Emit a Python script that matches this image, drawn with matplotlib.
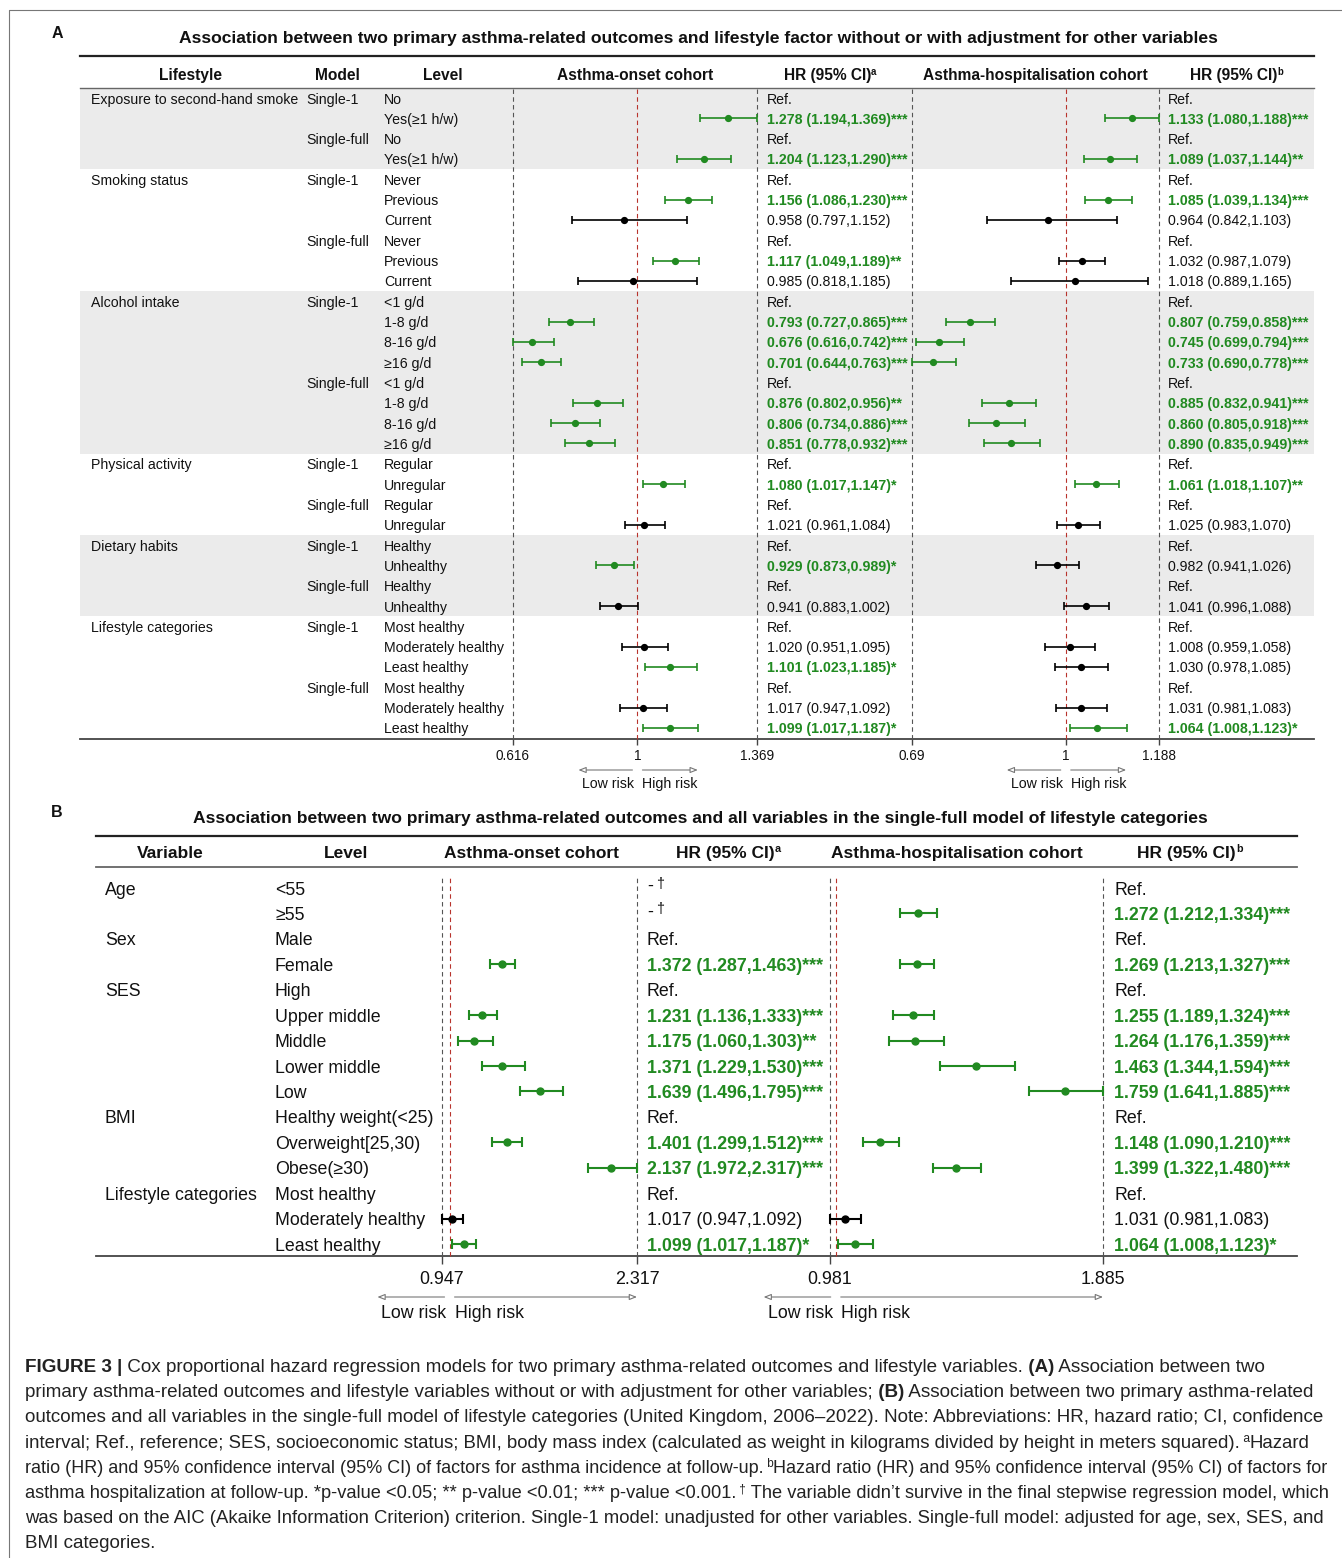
import numpy as np
import matplotlib
matplotlib.use('Agg')
import matplotlib.pyplot as plt
from matplotlib.patches import Rectangle

nan = np.nan

# -------------- Panel A: lifestyle factors, single-1 / single-full models --------------
a_groups = ['Exposure to second-hand smoke', 'Smoking status', 'Alcohol intake',
            'Physical activity', 'Dietary habits', 'Lifestyle categories']
a_group_sizes = [4, 6, 8, 4, 4, 6]
a_model = ['Single-1', '', 'Single-full', '',
           'Single-1', '', '', 'Single-full', '', '',
           'Single-1', '', '', '', 'Single-full', '', '', '',
           'Single-1', '', 'Single-full', '',
           'Single-1', '', 'Single-full', '',
           'Single-1', '', '', 'Single-full', '', '']
a_level = ['No', 'Yes(≥1 h/w)', 'No', 'Yes(≥1 h/w)',
           'Never', 'Previous', 'Current', 'Never', 'Previous', 'Current',
           '<1 g/d', '1-8 g/d', '8-16 g/d', '≥16 g/d', '<1 g/d', '1-8 g/d', '8-16 g/d', '≥16 g/d',
           'Regular', 'Unregular', 'Regular', 'Unregular',
           'Healthy', 'Unhealthy', 'Healthy', 'Unhealthy',
           'Most healthy', 'Moderately healthy', 'Least healthy',
           'Most healthy', 'Moderately healthy', 'Least healthy']

# asthma-onset cohort (nan = reference level)
a_on_hr = [nan, 1.278, nan, 1.204, nan, 1.156, 0.958, nan, 1.117, 0.985,
           nan, 0.793, 0.676, 0.701, nan, 0.876, 0.806, 0.851,
           nan, 1.080, nan, 1.021, nan, 0.929, nan, 0.941,
           nan, 1.020, 1.101, nan, 1.017, 1.099]
a_on_lo = [nan, 1.194, nan, 1.123, nan, 1.086, 0.797, nan, 1.049, 0.818,
           nan, 0.727, 0.616, 0.644, nan, 0.802, 0.734, 0.778,
           nan, 1.017, nan, 0.961, nan, 0.873, nan, 0.883,
           nan, 0.951, 1.023, nan, 0.947, 1.017]
a_on_hi = [nan, 1.369, nan, 1.290, nan, 1.230, 1.152, nan, 1.189, 1.185,
           nan, 0.865, 0.742, 0.763, nan, 0.956, 0.886, 0.932,
           nan, 1.147, nan, 1.084, nan, 0.989, nan, 1.002,
           nan, 1.095, 1.185, nan, 1.092, 1.187]
a_on_sig = ['', '***', '', '***', '', '***', '', '', '**', '',
            '', '***', '***', '***', '', '**', '***', '***',
            '', '*', '', '', '', '*', '', '',
            '', '', '*', '', '', '*']

# asthma-hospitalisation cohort
a_ho_hr = [nan, 1.133, nan, 1.089, nan, 1.085, 0.964, nan, 1.032, 1.018,
           nan, 0.807, 0.745, 0.733, nan, 0.885, 0.860, 0.890,
           nan, 1.061, nan, 1.025, nan, 0.982, nan, 1.041,
           nan, 1.008, 1.030, nan, 1.031, 1.064]
a_ho_lo = [nan, 1.080, nan, 1.037, nan, 1.039, 0.842, nan, 0.987, 0.889,
           nan, 0.759, 0.699, 0.690, nan, 0.832, 0.805, 0.835,
           nan, 1.018, nan, 0.983, nan, 0.941, nan, 0.996,
           nan, 0.959, 0.978, nan, 0.981, 1.008]
a_ho_hi = [nan, 1.188, nan, 1.144, nan, 1.134, 1.103, nan, 1.079, 1.165,
           nan, 0.858, 0.794, 0.778, nan, 0.941, 0.918, 0.949,
           nan, 1.107, nan, 1.070, nan, 1.026, nan, 1.088,
           nan, 1.058, 1.085, nan, 1.083, 1.123]
a_ho_sig = ['', '***', '', '**', '', '***', '', '', '', '',
            '', '***', '***', '***', '', '***', '***', '***',
            '', '**', '', '', '', '', '', '',
            '', '', '', '', '', '*']

# -------------- Panel B: all variables in the single-full model --------------
b_groups = ['Age', 'Sex', 'SES', 'BMI', 'Lifestyle categories']
b_group_sizes = [2, 2, 5, 3, 3]
b_level = ['<55', '≥55', 'Male', 'Female', 'High', 'Upper middle', 'Middle',
           'Lower middle', 'Low', 'Healthy weight(<25)', 'Overweight[25,30)',
           'Obese(≥30)', 'Most healthy', 'Moderately healthy', 'Least healthy']
b_on_dropped = [True, True] + [False] * 13   # age left the stepwise model
b_on_hr = [nan, nan, nan, 1.372, nan, 1.231, 1.175, 1.371, 1.639, nan, 1.401, 2.137, nan, 1.017, 1.099]
b_on_lo = [nan, nan, nan, 1.287, nan, 1.136, 1.060, 1.229, 1.496, nan, 1.299, 1.972, nan, 0.947, 1.017]
b_on_hi = [nan, nan, nan, 1.463, nan, 1.333, 1.303, 1.530, 1.795, nan, 1.512, 2.317, nan, 1.092, 1.187]
b_on_sig = ['', '', '', '***', '', '***', '**', '***', '***', '', '***', '***', '', '', '*']
b_ho_hr = [nan, 1.272, nan, 1.269, nan, 1.255, 1.264, 1.463, 1.759, nan, 1.148, 1.399, nan, 1.031, 1.064]
b_ho_lo = [nan, 1.212, nan, 1.213, nan, 1.189, 1.176, 1.344, 1.641, nan, 1.090, 1.322, nan, 0.981, 1.008]
b_ho_hi = [nan, 1.334, nan, 1.327, nan, 1.324, 1.359, 1.594, 1.885, nan, 1.210, 1.480, nan, 1.083, 1.123]
b_ho_sig = ['', '***', '', '***', '', '***', '***', '***', '***', '', '***', '***', '', '', '*']

# -------------- Style --------------
plt.rcParams['font.family'] = ['Liberation Sans', 'DejaVu Sans']
GREEN = '#218a21'
RED = '#b8332c'
DASH = '#555555'
INK = '#111111'
LINE = '#444444'

W, H = 1342, 1558
fig = plt.figure(figsize=(W / 100, H / 100), dpi=100)
bg = fig.add_axes([0, 0, 1, 1])
bg.set_xlim(0, W)
bg.set_ylim(H, 0)
bg.axis('off')
renderer = fig.canvas.get_renderer()


def runs_text(x, y, runs, size, color=INK, ha='left'):
    """Place styled pieces of one line next to each other on a shared baseline."""
    pieces, cx = [], x
    for s, bold, scale, rise in runs:
        t = bg.text(cx, y - rise, s, fontsize=size * scale, color=color,
                    fontweight='bold' if bold else 'normal', ha='left', va='baseline')
        pieces.append(t)
        cx += t.get_window_extent(renderer).width
    width = cx - x
    if ha == 'center':
        for t in pieces:
            t.set_x(t.get_position()[0] - width / 2)
    return pieces, width


def hr_text(x, y, hr, lo, hi, sig, size):
    if np.isnan(hr):
        bg.text(x, y, 'Ref.', fontsize=size, color=INK, va='center_baseline')
    else:
        bg.text(x, y, f'{hr:.3f} ({lo:.3f},{hi:.3f}){sig}', fontsize=size,
                color=GREEN if sig else INK, fontweight='bold' if sig else 'normal',
                va='center_baseline')


def forest(x0, x1, y0, y1, row0, step, hr, lo, hi, sig, ms, cap, lw,
           tick_fs, tick_len, tick_pad, tick_one):
    ax = fig.add_axes([x0 / W, 1 - y1 / H, (x1 - x0) / W, (y1 - y0) / H])
    xmin, xmax = np.nanmin(lo), np.nanmax(hi)
    ax.set_xlim(xmin, xmax)
    ax.set_ylim((y1 - row0) / step, (y0 - row0) / step)
    ax.patch.set_alpha(0)
    for s in ax.spines.values():
        s.set_visible(False)
    ax.set_yticks([])
    ticks = [xmin, 1, xmax] if tick_one else [xmin, xmax]
    ax.set_xticks(ticks, [f'{v:g}' for v in ticks])
    ax.tick_params(axis='x', length=tick_len, width=1, color=LINE,
                   labelsize=tick_fs, pad=tick_pad, labelcolor=INK)
    for v, c in ((xmin, DASH), (1, RED), (xmax, DASH)):
        ax.axvline(v, color=c, lw=0.8, ls=(0, (4, 3)), clip_on=False)
    for i in range(len(hr)):
        if np.isnan(hr[i]):
            continue
        c = GREEN if sig[i] else 'black'
        eb = ax.errorbar(hr[i], i, xerr=[[hr[i] - lo[i]], [hi[i] - hr[i]]], fmt='o',
                         color=c, ms=ms, capsize=cap, elinewidth=lw, capthick=lw)
        for art in eb.get_children():
            art.set_clip_on(False)
    return ax, xmin, xmax


def risk_arrows(x_one, x_end, y_arrow, y_text, size, to_end):
    gap = 5
    t1 = bg.text(x_one - gap + 2, y_text, 'Low risk', fontsize=size, ha='right',
                 va='center_baseline', color=INK)
    t2 = bg.text(x_one + gap, y_text, 'High risk', fontsize=size, ha='left',
                 va='center_baseline', color=INK)
    w1 = t1.get_window_extent(renderer).width
    w2 = t2.get_window_extent(renderer).width
    right_end = x_end if to_end else x_one + gap + w2
    style = dict(arrowstyle='-|>,head_length=0.45,head_width=0.18', color='#777777',
                 lw=0.8, fc='white', shrinkA=0, shrinkB=0)
    bg.annotate('', xy=(x_one - gap - w1 - 2, y_arrow), xytext=(x_one - gap, y_arrow),
                arrowprops=style)
    bg.annotate('', xy=(right_end, y_arrow), xytext=(x_one + gap, y_arrow),
                arrowprops=style)


# outer frame of the figure page
bg.plot([9, 9, W], [H, 10, 10], color='#777777', lw=0.8)

# ======================= Panel A =======================
A_ROW0, A_STEP = 98, 20.32
A_L, A_R = 80, 1314
FS_A, FS_AH, FS_TITLE = 10.2, 11.2, 12.6
n_a = len(a_level)

bg.text(57, 38, 'A', fontsize=11.5, fontweight='bold', ha='center', va='baseline', color=INK)
bg.text(698, 43, 'Association between two primary asthma-related outcomes and lifestyle factor '
        'without or with adjustment for other variables', fontsize=FS_TITLE, fontweight='bold',
        ha='center', va='baseline', color=INK)
bg.plot([A_L, A_R], [56, 56], color='#222222', lw=1.6)
bg.plot([A_L, A_R], [87.5, 87.5], color='#666666', lw=1.0)
bg.plot([A_L, A_R], [739, 739], color=LINE, lw=1.3)

for x, lab in ((190, 'Lifestyle'), (337, 'Model'), (443, 'Level'), (635, 'Asthma-onset cohort'),
               (1035, 'Asthma-hospitalisation cohort')):
    runs_text(x, 79.5, [(lab, True, 1, 0)], FS_AH, ha='center')
runs_text(830, 79.5, [('HR (95% CI)', True, 1, 0), ('a', True, 0.62, 5)], FS_AH, ha='center')
runs_text(1237, 79.5, [('HR (95% CI)', True, 1, 0), ('b', True, 0.62, 5)], FS_AH, ha='center')

start = 0
for g, (name, size) in enumerate(zip(a_groups, a_group_sizes)):
    if g % 2 == 0:
        top = A_ROW0 + A_STEP * (start - 0.5)
        bg.add_patch(Rectangle((A_L, top), A_R - A_L, A_STEP * size,
                               facecolor='#ebebeb', edgecolor='none', zorder=0))
    bg.text(91, A_ROW0 + A_STEP * start, name, fontsize=FS_A, va='center_baseline', color=INK)
    start += size

for i in range(n_a):
    y = A_ROW0 + A_STEP * i
    if a_model[i]:
        bg.text(306, y, a_model[i], fontsize=FS_A, va='center_baseline', color=INK)
    bg.text(384, y, a_level[i], fontsize=FS_A, va='center_baseline', color=INK)
    hr_text(767, y, a_on_hr[i], a_on_lo[i], a_on_hi[i], a_on_sig[i], FS_A)
    hr_text(1168, y, a_ho_hr[i], a_ho_lo[i], a_ho_hi[i], a_ho_sig[i], FS_A)

for x0, x1, hr, lo, hi, sig in ((513, 757, a_on_hr, a_on_lo, a_on_hi, a_on_sig),
                                (912, 1159, a_ho_hr, a_ho_lo, a_ho_hi, a_ho_sig)):
    ax, xmin, xmax = forest(x0, x1, 89, 739, A_ROW0, A_STEP, np.array(hr), np.array(lo),
                            np.array(hi), sig, ms=4.2, cap=2.9, lw=1.2,
                            tick_fs=9.8, tick_len=4.5, tick_pad=2.5, tick_one=True)
    x_one = x0 + (1 - xmin) / (xmax - xmin) * (x1 - x0)
    risk_arrows(x_one, x1, 770, 782, FS_A, to_end=False)

# ======================= Panel B =======================
B_ROW0, B_STEP = 888, 25.43
B_L, B_R = 96, 1297
FS_B, FS_BH = 12.8, 12.5
n_b = len(b_level)

bg.text(57, 817, 'B', fontsize=11.5, fontweight='bold', ha='center', va='baseline', color=INK)
bg.text(700, 823, 'Association between two primary asthma-related outcomes and all variables '
        'in the single-full model of lifestyle categories', fontsize=FS_TITLE, fontweight='bold',
        ha='center', va='baseline', color=INK)
bg.plot([B_L, B_R], [836, 836], color='#222222', lw=1.6)
bg.plot([B_L, B_R], [867, 867], color='#666666', lw=1.3)
bg.plot([B_L, B_R], [1256, 1256], color=LINE, lw=1.3)

for x, lab in ((170, 'Variable'), (346, 'Level'), (532, 'Asthma-onset cohort'),
               (957, 'Asthma-hospitalisation cohort')):
    runs_text(x, 858, [(lab, True, 1, 0)], FS_BH, ha='center')
runs_text(728, 858, [('HR (95% CI)', True, 1, 0), ('a', True, 0.62, 6)], FS_BH, ha='center')
runs_text(1190, 858, [('HR (95% CI)', True, 1, 0), ('b', True, 0.62, 6)], FS_BH, ha='center')

start = 0
for name, size in zip(b_groups, b_group_sizes):
    bg.text(105, B_ROW0 + B_STEP * start, name, fontsize=FS_B, va='center_baseline', color=INK)
    start += size

for i in range(n_b):
    y = B_ROW0 + B_STEP * i
    bg.text(275, y, b_level[i], fontsize=FS_B, va='center_baseline', color=INK)
    if b_on_dropped[i]:
        runs_text(647, y + 3, [('-', False, 1, 0), (' †', False, 0.8, 3)], FS_B)
    else:
        hr_text(647, y, b_on_hr[i], b_on_lo[i], b_on_hi[i], b_on_sig[i], FS_B)
    hr_text(1114, y, b_ho_hr[i], b_ho_lo[i], b_ho_hi[i], b_ho_sig[i], FS_B)

for x0, x1, hr, lo, hi, sig in ((442, 637, b_on_hr, b_on_lo, b_on_hi, b_on_sig),
                                (830, 1103, b_ho_hr, b_ho_lo, b_ho_hi, b_ho_sig)):
    ax, xmin, xmax = forest(x0, x1, 878, 1256, B_ROW0, B_STEP, np.array(hr), np.array(lo),
                            np.array(hi), sig, ms=5.0, cap=3.4, lw=1.5,
                            tick_fs=12.9, tick_len=5.5, tick_pad=5, tick_one=False)
    x_one = x0 + (1 - xmin) / (xmax - xmin) * (x1 - x0)
    risk_arrows(x_one, x1, 1297, 1311, FS_B, to_end=True)

# ======================= Caption =======================
cap_lines = [
    [('FIGURE 3 |', True, 1, 0),
     (' Cox proportional hazard regression models for two primary asthma-related outcomes '
      'and lifestyle variables.', False, 1, 0),
     (' (A)', True, 1, 0), (' Association between two', False, 1, 0)],
    [('primary asthma-related outcomes and lifestyle variables without or with adjustment for '
      'other variables;', False, 1, 0),
     (' (B)', True, 1, 0), (' Association between two primary asthma-related', False, 1, 0)],
    [('outcomes and all variables in the single-full model of lifestyle categories (United Kingdom, '
      '2006–2022). Note: Abbreviations: HR, hazard ratio; CI, confidence', False, 1, 0)],
    [('interval; Ref., reference; SES, socioeconomic status; BMI, body mass index (calculated as '
      'weight in kilograms divided by height in meters squared).', False, 1, 0),
     (' a', False, 0.65, 6), ('Hazard', False, 1, 0)],
    [('ratio (HR) and 95% confidence interval (95% CI) of factors for asthma incidence at follow-up.',
      False, 1, 0),
     (' b', False, 0.65, 6),
     ('Hazard ratio (HR) and 95% confidence interval (95% CI) of factors for', False, 1, 0)],
    [('asthma hospitalization at follow-up. *p-value <0.05; ** p-value <0.01; *** p-value <0.001.',
      False, 1, 0),
     (' †', False, 0.65, 6),
     (' The variable didn’t survive in the final stepwise regression model, which', False, 1, 0)],
    [('was based on the AIC (Akaike Information Criterion) criterion. Single-1 model: unadjusted for '
      'other variables. Single-full model: adjusted for age, sex, SES, and', False, 1, 0)],
    [('BMI categories.', False, 1, 0)],
]
cap_right = [1275, 1323, 1323, 1307, 1323, 1323, 1323, None]
CAP_X, CAP_Y0, CAP_STEP, CAP_FS = 25, 1372, 25.2, 13.6

# each line is shrunk just enough to end at its right margin
for k, (runs, right) in enumerate(zip(cap_lines, cap_right)):
    y = CAP_Y0 + CAP_STEP * k
    pieces, width = runs_text(CAP_X, y, runs, CAP_FS, color='#222222')
    if right is not None and CAP_X + width > right:
        for t in pieces:
            t.remove()
        runs_text(CAP_X, y, runs, CAP_FS * (right - CAP_X) / width, color='#222222')

fig.savefig('out.png', dpi=100)
